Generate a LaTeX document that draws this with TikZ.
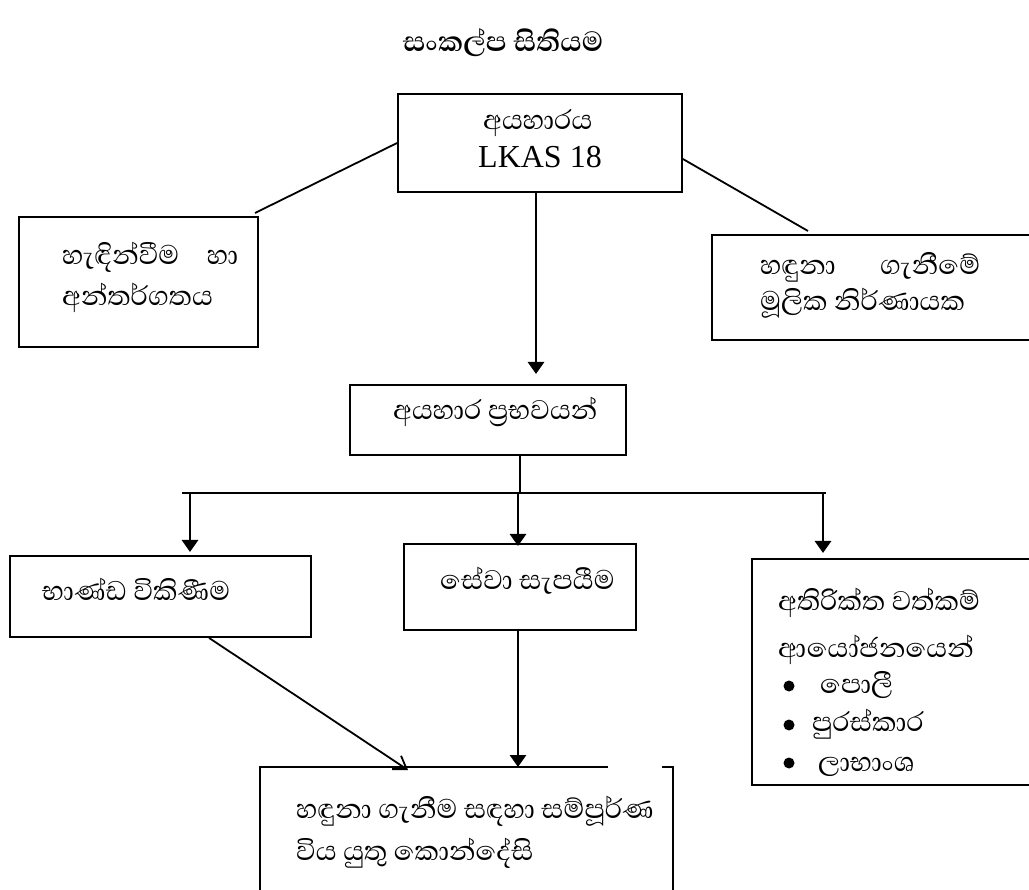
\documentclass[tikz,border=0pt]{standalone}
\usepackage{fontspec}
\setmainfont{Liberation Serif}
\newfontfamily\sinhalafont[Script=Sinhala]{Abhaya Libre}
\usetikzlibrary{arrows.meta,calc}
\begin{document}
\begin{tikzpicture}[x=1pt,y=-1pt,
  box/.style={draw, line width=1.8pt, inner sep=0pt},
  conn/.style={line width=1.8pt},
  arr/.style={line width=2.8pt, -{Triangle[width=16pt,length=12pt]}},
  openarr/.style={line width=1.8pt, -{Straight Barb[width=16pt,length=12pt,line width=1.8pt]}},
  txt/.style={anchor=base west, inner sep=0pt, font=\sinhalafont\fontsize{34.5}{40}\selectfont},
  bul/.style={circle, fill, inner sep=0pt, minimum size=11pt}]
\useasboundingbox (0,0) rectangle (1029,890);
% title
\node[anchor=base, inner sep=0pt, font=\sinhalafont\bfseries\fontsize{35.5}{40}\selectfont] (title) at (503,52) {සංකල්ප සිතියම};
% boxes
\node[box, minimum width=284pt, minimum height=98pt] (top) at (540,143) {};
\node[box, minimum width=239pt, minimum height=130pt] (lb) at (138.5,282) {};
\node[box, minimum width=328pt, minimum height=105pt] (rb) at (876,287.5) {};
\node[box, minimum width=276pt, minimum height=70pt] (mid) at (488,420) {};
\node[box, minimum width=301pt, minimum height=81pt] (goods) at (160.5,596.5) {};
\node[box, minimum width=232pt, minimum height=86pt] (serv) at (520,587) {};
\node[box, minimum width=288pt, minimum height=226pt] (extra) at (896,672) {};
% bottom open box
\coordinate (bot) at (466.5,767);
\draw[line width=1.2pt] (608,767) -- (260,767) -- (260,895);
\draw[line width=1.2pt] (662,767) -- (673,767) -- (673,895);
% texts
\node[txt] (t1) at (483,130) {අයහාරය};
\node[anchor=base west, inner sep=0pt, font=\fontsize{32}{36}\selectfont] (t2) at (478,168) {LKAS 18};
\node[txt] (l1) at (62,265) {\makebox[176pt][s]{හැඳින්වීම\hfill හා}};
\node[txt] (l2) at (62,306) {අන්තර්ගතය};
\node[txt] (r1) at (760,275) {\makebox[220pt][s]{හඳුනා\hfill ගැනීමේ}};
\node[txt] (r2) at (760,311) {මූලික නිර්ණායක};
\node[txt] (m1) at (393,420) {අයහාර ප්‍රභවයන්};
\node[txt] (g1) at (42,600) {භාණ්ඩ විකිණීම};
\node[txt] (s1) at (440,589) {සේවා  සැපයීම};
\node[txt] (e1) at (778,610) {අතිරික්ත වත්කම්};
\node[txt] (e2) at (778,657) {ආයෝජනයෙන්};
\node[bul] (b1) at (789,686) {};
\node[txt] (e3) at (820,693) {පොලී};
\node[bul] (b2) at (789,725) {};
\node[txt] (e4) at (812,731) {පුරස්කාර};
\node[bul] (b3) at (789,763) {};
\node[txt] (e5) at (818,771) {ලාභාංශ};
\node[txt] (k1) at (296,818) {හඳුනා ගැනීම සඳහා සම්පූර්ණ};
\node[txt] (k2) at (296,860) {විය යුතු කොන්දේසි};
% connectors
\coordinate (lend) at (255,213);
\coordinate (rend) at (808,231);
\draw[conn] (top.west) -- (lend);
\draw[conn] ($(top.east)+(0,16)$) -- (rend);
\coordinate (midtop) at (536,374);
\draw[arr] (top.south -| midtop) -- (midtop);
\coordinate (busL) at (182,493);
\coordinate (busR) at (826,493);
\draw[conn] (mid.south -| 520,0) -- (520,493);
\draw[conn] (busL) -- (busR);
\coordinate (ga) at (190,552);
\coordinate (sa) at (518,546);
\coordinate (ea) at (823,553);
\draw[arr] (ga |- busL) -- (ga);
\draw[arr] (sa |- busL) -- (sa);
\draw[arr] (ea |- busL) -- (ea);
\coordinate (gtip) at (408,770);
\draw[openarr] (goods.south -| 209,0) -- (gtip);
\coordinate (stip) at (518,767);
\draw[arr] (serv.south -| stip) -- (stip);
\end{tikzpicture}
\end{document}
